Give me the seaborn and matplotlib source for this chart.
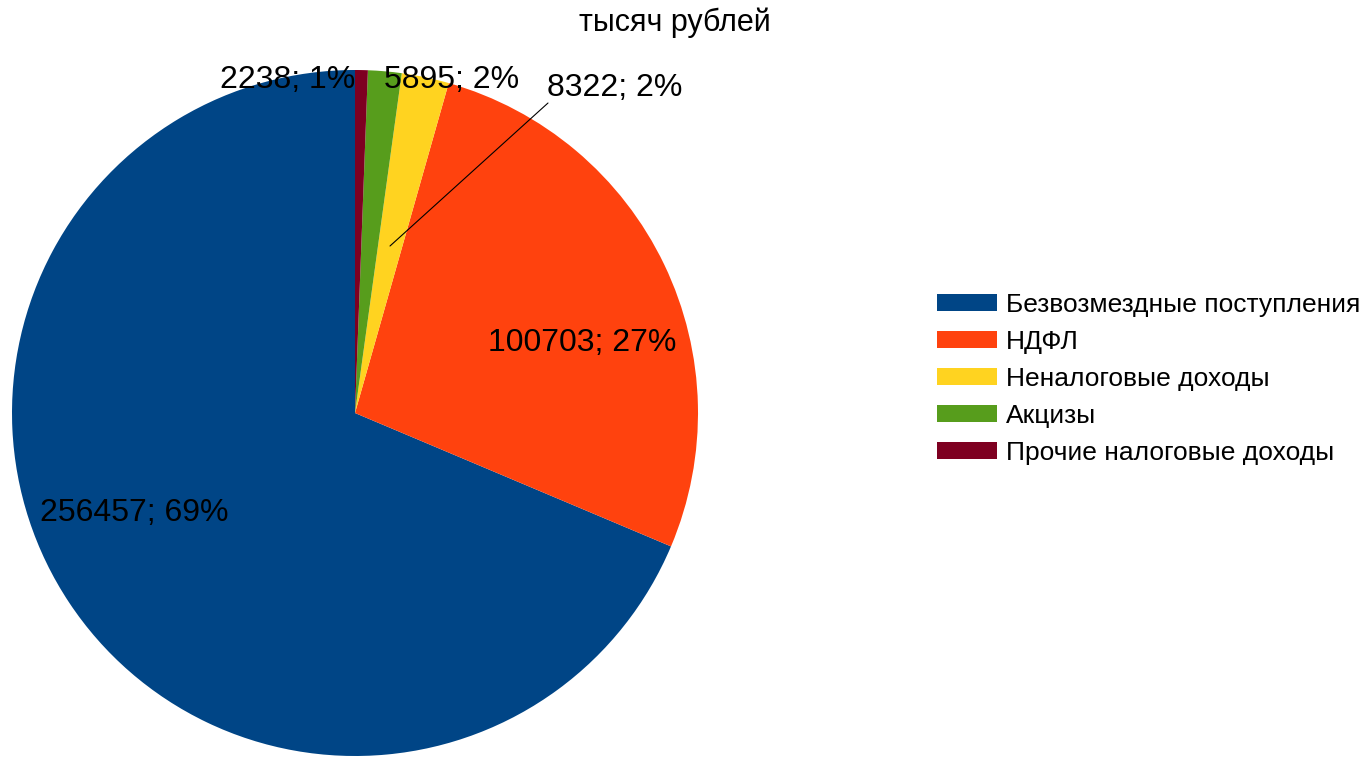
import matplotlib
matplotlib.use('Agg')
import matplotlib.pyplot as plt
from matplotlib.patches import Patch
import seaborn as sns

categories = ['Безвозмездные поступления', 'НДФЛ', 'Неналоговые доходы', 'Акцизы',
              'Прочие налоговые доходы']
values = [256457, 100703, 8322, 5895, 2238]
colors = ['#004586', '#ff420e', '#ffd320', '#579d1c', '#7e0021']
title = 'тысяч рублей'

sns.set_theme(style='white')
plt.rcParams['font.family'] = ['Liberation Sans', 'DejaVu Sans']
plt.rcParams['text.color'] = 'black'

W, H = 1366, 757
fig = plt.figure(figsize=(W / 100, H / 100), dpi=100)
cx, cy, r = 355, 413, 343
ax = fig.add_axes([(cx - r) / W, (H - cy - r) / H, 2 * r / W, 2 * r / H])

palette = sns.color_palette(colors)
wedges, _ = ax.pie(values, colors=palette, startangle=90, counterclock=True,
                   radius=1, wedgeprops=dict(linewidth=0))
ax.set_xlim(-1, 1)
ax.set_ylim(-1, 1)
ax.set_aspect('equal')
ax.axis('off')

total = sum(values)
labels = [f'{v}; {round(v / total * 100)}%' for v in values]


def px(x, y):
    return (x - cx) / r, (cy - y) / r


label_pos = [px(134, 513), px(582, 343), px(615, 88), px(452, 80), px(288, 80)]
for lab, (lx, ly) in zip(labels, label_pos):
    ax.text(lx, ly, lab, ha='center', va='center', fontsize=23, color='black',
            clip_on=False)

# leader line for the small yellow slice
x0, y0 = px(390, 246)
x1, y1 = px(548, 103)
ax.plot([x0, x1], [y0, y1], color='black', lw=0.8, clip_on=False)

fig.text(675 / W, 1 - 23 / H, title, ha='center', va='center', fontsize=22,
         color='black')

handles = [Patch(facecolor=c, edgecolor='none') for c in colors]
leg = fig.legend(handles, categories, loc='center left',
                 bbox_to_anchor=(937 / W, 1 - 379 / H), frameon=False, fontsize=19,
                 handlelength=2.27, handleheight=0.61, handletextpad=0.34,
                 labelspacing=0.49, borderpad=0, borderaxespad=0)
for t in leg.get_texts():
    t.set_color('black')

fig.savefig('out.png', dpi=100, facecolor='white')
